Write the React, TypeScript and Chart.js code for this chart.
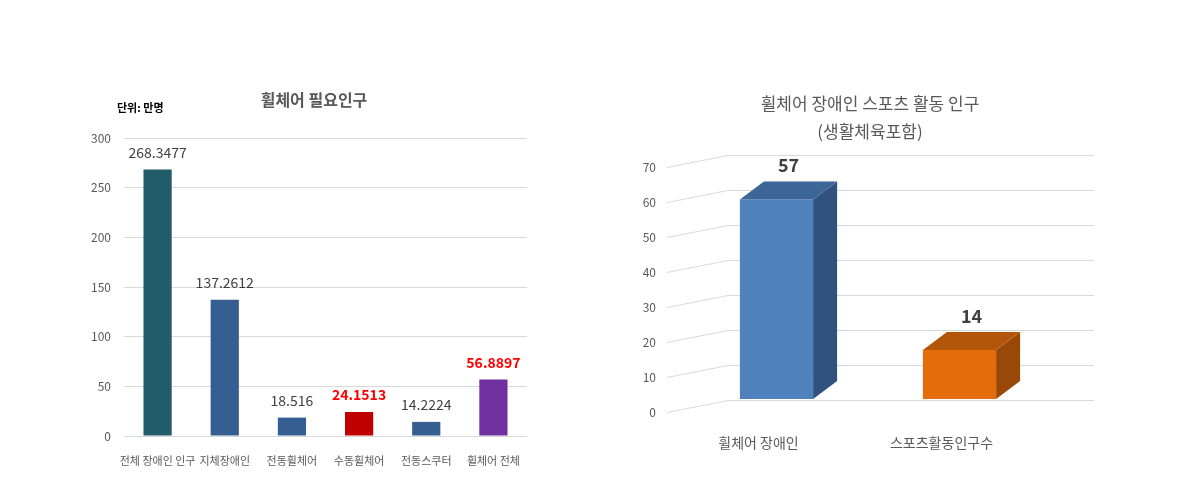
import React, { useEffect, useRef } from "react";
import { Chart, registerables } from "chart.js";

Chart.register(...registerables);

// ---------- Left chart data ----------
const leftTitle = "휠체어 필요인구";
const leftUnit = "단위: 만명";
const leftCategories = ["전체 장애인 인구", "지체장애인", "전동휠체어", "수동휠체어", "전동스쿠터", "휠체어 전체"];
const leftValues = [268.3477, 137.2612, 18.516, 24.1513, 14.2224, 56.8897];
const leftColors = ["#225B69", "#355F91", "#355F91", "#C00000", "#355F91", "#7030A0"];
const leftLabelColors = ["#404040", "#404040", "#404040", "#FF0000", "#404040", "#FF0000"];
const leftLabelBold = [false, false, false, true, false, true];
const leftYMax = 300;
const leftYStep = 50;

// ---------- Right chart data ----------
const rightTitle = ["휠체어 장애인 스포츠 활동 인구", "(생활체육포함)"];
const rightCategories = ["휠체어 장애인", "스포츠활동인구수"];
const rightValues = [57, 14];
const rightFront = ["#4F81BD", "#E46C0A"];
const rightSide = ["#31527F", "#9A4808"];
const rightTop = ["#3C6598", "#B35609"];
const rightYMax = 70;
const rightYStep = 10;

const FONT = "'Noto Sans CJK KR', 'Noto Sans', sans-serif";

function LeftChart() {
  const ref = useRef<HTMLCanvasElement | null>(null);
  useEffect(() => {
    if (!ref.current) return;
    const titlePlugin = {
      id: "leftDeco",
      afterDraw(chart: any) {
        const ctx = chart.ctx;
        ctx.save();
        ctx.fillStyle = "#595959";
        ctx.font = `bold 16px ${FONT}`;
        ctx.textAlign = "center";
        ctx.textBaseline = "middle";
        ctx.fillText(leftTitle, 254, 30);
        ctx.fillStyle = "#000000";
        ctx.font = `bold 11px ${FONT}`;
        ctx.textAlign = "left";
        ctx.fillText(leftUnit, 57, 38);
        const meta = chart.getDatasetMeta(0);
        meta.data.forEach((el: any, i: number) => {
          ctx.fillStyle = leftLabelColors[i];
          ctx.font = `${leftLabelBold[i] ? "bold " : ""}14px ${FONT}`;
          ctx.textAlign = "center";
          ctx.fillText(String(leftValues[i]), el.x, el.y - 17);
        });
        ctx.restore();
      },
    };
    const chart = new Chart(ref.current, {
      type: "bar",
      data: {
        labels: leftCategories,
        datasets: [
          {
            data: leftValues,
            backgroundColor: leftColors,
            categoryPercentage: 1,
            barPercentage: 0.42,
          },
        ],
      },
      options: {
        responsive: false,
        animation: false,
        devicePixelRatio: 1,
        layout: { padding: { top: 68, right: 33, left: 0, bottom: 0 } },
        plugins: { legend: { display: false }, tooltip: { enabled: false } },
        scales: {
          x: {
            grid: { display: false },
            border: { display: false },
            ticks: {
              autoSkip: false,
              maxRotation: 0,
              minRotation: 0,
              padding: 10,
              color: "#595959",
              font: { family: FONT, size: 11 },
            },
            afterFit: (s: any) => {
              s.height = 34;
            },
          },
          y: {
            min: 0,
            max: leftYMax,
            ticks: {
              stepSize: leftYStep,
              padding: 13,
              color: "#595959",
              font: { family: FONT, size: 12 },
            },
            grid: { color: "#D9D9D9", drawTicks: false },
            border: { display: false },
            afterFit: (s: any) => {
              s.width = 64;
            },
          },
        },
      },
      plugins: [titlePlugin],
    });
    return () => chart.destroy();
  }, []);
  return (
    <canvas
      ref={ref}
      width={500}
      height={400}
      style={{ position: "absolute", left: 60, top: 70, width: 500, height: 400 }}
    />
  );
}

function RightChart() {
  const ref = useRef<HTMLCanvasElement | null>(null);
  useEffect(() => {
    if (!ref.current) return;
    const DX = 61;
    const DY = -12;
    const BAR_DX = 18;
    const BAR_DY = -13;
    const SIDE_DX = 24;
    const SIDE_DY = -18;
    const deco = {
      id: "rightDeco",
      beforeDatasetsDraw(chart: any) {
        const ctx = chart.ctx;
        const { left, right } = chart.chartArea;
        const ys = chart.scales.y;
        ctx.save();
        ctx.strokeStyle = "#D9D9D9";
        ctx.lineWidth = 1;
        for (let v = 0; v <= rightYMax; v += rightYStep) {
          const y = Math.round(ys.getPixelForValue(v)) + 0.5;
          ctx.beginPath();
          ctx.moveTo(left, y);
          ctx.lineTo(left + DX, y + DY);
          ctx.lineTo(right + DX, y + DY);
          ctx.stroke();
        }
        ctx.restore();
      },
      afterDatasetsDraw(chart: any) {
        const ctx = chart.ctx;
        const meta = chart.getDatasetMeta(0);
        ctx.save();
        meta.data.forEach((el: any, i: number) => {
          const w = el.width;
          const l = el.x - w / 2 + BAR_DX;
          const r = el.x + w / 2 + BAR_DX;
          const t = el.y + BAR_DY;
          const b = el.base + BAR_DY;
          // front
          ctx.fillStyle = rightFront[i];
          ctx.fillRect(l, t, r - l, b - t);
          // side
          ctx.fillStyle = rightSide[i];
          ctx.beginPath();
          ctx.moveTo(r, t);
          ctx.lineTo(r + SIDE_DX, t + SIDE_DY);
          ctx.lineTo(r + SIDE_DX, b + SIDE_DY);
          ctx.lineTo(r, b);
          ctx.closePath();
          ctx.fill();
          // top
          ctx.fillStyle = rightTop[i];
          ctx.beginPath();
          ctx.moveTo(l, t);
          ctx.lineTo(l + SIDE_DX, t + SIDE_DY);
          ctx.lineTo(r + SIDE_DX, t + SIDE_DY);
          ctx.lineTo(r, t);
          ctx.closePath();
          ctx.fill();
          // label
          ctx.fillStyle = "#404040";
          ctx.font = `bold 18px ${FONT}`;
          ctx.textAlign = "center";
          ctx.textBaseline = "middle";
          ctx.fillText(String(rightValues[i]), el.x + BAR_DX + SIDE_DX / 2, el.y - 47);
        });
        // titles
        ctx.fillStyle = "#595959";
        ctx.font = `17px ${FONT}`;
        ctx.textAlign = "center";
        ctx.textBaseline = "middle";
        ctx.fillText(rightTitle[0], 270, 34);
        ctx.fillText(rightTitle[1], 270, 62);
        ctx.restore();
      },
    };
    const chart = new Chart(ref.current, {
      type: "bar",
      data: {
        labels: rightCategories,
        datasets: [
          {
            data: rightValues,
            backgroundColor: "rgba(0,0,0,0)",
            categoryPercentage: 1,
            barPercentage: 0.4,
          },
        ],
      },
      options: {
        responsive: false,
        animation: false,
        devicePixelRatio: 1,
        layout: { padding: { top: 97, right: 127, left: 0, bottom: 0 } },
        plugins: { legend: { display: false }, tooltip: { enabled: false } },
        scales: {
          x: {
            grid: { display: false },
            border: { display: false },
            ticks: {
              autoSkip: false,
              maxRotation: 0,
              minRotation: 0,
              padding: 14,
              color: "#595959",
              font: { family: FONT, size: 14 },
            },
            afterFit: (s: any) => {
              s.height = 58;
            },
          },
          y: {
            min: 0,
            max: rightYMax,
            ticks: {
              stepSize: rightYStep,
              padding: 11,
              color: "#595959",
              font: { family: FONT, size: 12 },
            },
            grid: { display: false, drawTicks: false },
            border: { display: false },
            afterFit: (s: any) => {
              s.width = 67;
            },
          },
        },
      },
      plugins: [deco],
    });
    return () => chart.destroy();
  }, []);
  return (
    <canvas
      ref={ref}
      width={560}
      height={400}
      style={{ position: "absolute", left: 600, top: 70, width: 560, height: 400 }}
    />
  );
}

export default function App() {
  return (
    <div
      style={{
        position: "fixed",
        left: 0,
        top: 0,
        width: 1193,
        height: 485,
        background: "#FFFFFF",
        overflow: "hidden",
      }}
    >
      <LeftChart />
      <RightChart />
    </div>
  );
}
